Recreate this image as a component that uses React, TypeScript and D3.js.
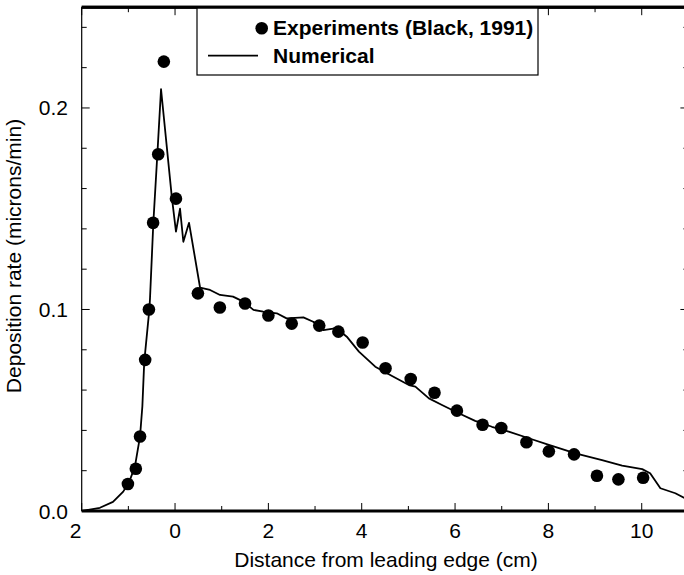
import React from "react";
import * as d3 from "d3";

const expX = [-1.01, -0.84, -0.75, -0.64, -0.56, -0.47, -0.36, -0.24, 0.02, 0.49, 0.96, 1.5, 2.0, 2.5, 3.09, 3.5, 4.02, 4.51, 5.05, 5.56, 6.04, 6.59, 6.99, 7.53, 8.01, 8.55, 9.04, 9.5, 10.03];
const expY = [0.0134, 0.021, 0.037, 0.075, 0.1, 0.143, 0.177, 0.223, 0.155, 0.108, 0.101, 0.103, 0.097, 0.093, 0.092, 0.089, 0.0836, 0.0708, 0.0655, 0.0587, 0.0498, 0.0428, 0.0412, 0.0341, 0.0296, 0.0281, 0.0175, 0.0157, 0.0165];

const numX = [-2, -1.61, -1.33, -1.11, -0.98, -0.86, -0.75, -0.7, -0.66, -0.58, -0.55, -0.536, -0.465, -0.379, -0.3, -0.07, 0.02, 0.107, 0.178, 0.3, 0.536, 0.75, 0.964, 1.243, 1.464, 1.68, 1.89, 2.18, 2.39, 2.75, 2.96, 3.18, 3.46, 3.68, 3.94, 4.29, 4.65, 5.01, 5.15, 5.44, 5.72, 6.08, 6.43, 6.79, 7.15, 7.58, 8.01, 8.58, 9.15, 9.58, 10.01, 10.18, 10.4, 10.72, 10.95];
const numY = [0, 0.0016, 0.0045, 0.0096, 0.0146, 0.022, 0.037, 0.052, 0.074, 0.093, 0.1, 0.1057, 0.143, 0.177, 0.2093, 0.156, 0.1386, 0.15, 0.1336, 0.143, 0.1109, 0.1097, 0.1072, 0.1064, 0.1039, 0.0998, 0.0989, 0.0981, 0.0956, 0.0961, 0.0939, 0.0898, 0.0907, 0.0865, 0.0791, 0.0716, 0.067, 0.0625, 0.0617, 0.0559, 0.0526, 0.0485, 0.0447, 0.0418, 0.0394, 0.0361, 0.0328, 0.0286, 0.0253, 0.0225, 0.0208, 0.0187, 0.0113, 0.0088, 0.006];

const xTickLabels = ["2", "0", "2", "4", "6", "8", "10"];
const xTickValues = [-2, 0, 2, 4, 6, 8, 10];
const yTickLabels = ["0.0", "0.1", "0.2"];
const yTickValues = [0, 0.1, 0.2];

const legendLabels = ["Experiments (Black, 1991)", "Numerical"];
const xTitle = "Distance from leading edge (cm)";
const yTitle = "Deposition rate (microns/min)";

export default function App() {
  const x = d3.scaleLinear().domain([-2, 11]).range([81.7, 688.4]);
  const y = d3.scaleLinear().domain([0, 0.25]).range([511, 7.2]);
  const x0 = x(-2), x1 = x(11), y0 = y(0), y1 = y(0.25);
  const font = "'Liberation Sans', Arial, Helvetica, sans-serif";

  const line = d3
    .line<number>()
    .x((_, i) => x(numX[i]))
    .y((_, i) => y(numY[i]));

  const xMinor = d3.range(-2, 12, 1);
  const yMinor = d3.range(0, 0.2501, 0.02);

  return (
    <svg
      width={684}
      height={575}
      style={{ position: "absolute", left: 0, top: 0, background: "#fff" }}
      fontFamily={font}
    >
      <rect x={0} y={0} width={684} height={575} fill="#fff" />
      {/* ticks */}
      {xMinor.map((v) => {
        const major = Math.round(v) % 2 === 0;
        const len = major ? 8 : 5;
        return (
          <g key={"xt" + v} stroke="#000" strokeWidth={1}>
            <line x1={x(v)} x2={x(v)} y1={y0} y2={y0 - len} />
            <line x1={x(v)} x2={x(v)} y1={y1} y2={y1 + len} />
          </g>
        );
      })}
      {yMinor.map((v, i) => {
        const major = i % 5 === 0;
        const len = major ? 8 : 5;
        return (
          <g key={"yt" + i} stroke="#000" strokeWidth={1}>
            <line x1={x0} x2={x0 + len} y1={y(v)} y2={y(v)} />
            <line x1={x1} x2={x1 - len} y1={y(v)} y2={y(v)} />
          </g>
        );
      })}
      {/* frame */}
      <line x1={x0} x2={x0} y1={y0} y2={y1} stroke="#000" strokeWidth={1.2} />
      <line x1={x1} x2={x1} y1={y0} y2={y1} stroke="#000" strokeWidth={1.2} />
      <line x1={x0} x2={x1} y1={y0} y2={y0} stroke="#000" strokeWidth={3} />
      <line x1={x0} x2={x1} y1={y1} y2={y1} stroke="#000" strokeWidth={3} />

      {/* tick labels */}
      {xTickValues.map((v, i) => (
        <text
          key={"xl" + i}
          x={i === 0 ? x(v) - 6 : x(v)}
          y={538}
          fontSize={21}
          textAnchor="middle"
        >
          {xTickLabels[i]}
        </text>
      ))}
      {yTickValues.map((v, i) => (
        <text key={"yl" + i} x={68} y={y(v) + 7.5} fontSize={21} textAnchor="end">
          {yTickLabels[i]}
        </text>
      ))}

      {/* titles */}
      <text x={386} y={567} fontSize={21} textAnchor="middle">
        {xTitle}
      </text>
      <text
        transform={`translate(21,256) rotate(-90)`}
        fontSize={21}
        textAnchor="middle"
      >
        {yTitle}
      </text>

      {/* numerical line */}
      <path d={line(numX) || ""} fill="none" stroke="#000" strokeWidth={1.8} strokeLinejoin="round" />

      {/* experiments */}
      {expX.map((v, i) => (
        <circle key={"p" + i} cx={x(v)} cy={y(expY[i])} r={6.3} fill="#000" />
      ))}

      {/* legend */}
      <rect x={197} y={y1} width={341} height={75 - y1} fill="#fff" stroke="#000" strokeWidth={1.2} />
      <line x1={x0} x2={x1} y1={y1} y2={y1} stroke="#000" strokeWidth={3} />
      <circle cx={261.7} cy={28.3} r={6.3} fill="#000" />
      <text x={273} y={35} fontSize={21} fontWeight="bold">
        {legendLabels[0]}
      </text>
      <line x1={208} x2={258} y1={55.7} y2={55.7} stroke="#000" strokeWidth={1.8} />
      <text x={273} y={63} fontSize={21} fontWeight="bold">
        {legendLabels[1]}
      </text>
    </svg>
  );
}
